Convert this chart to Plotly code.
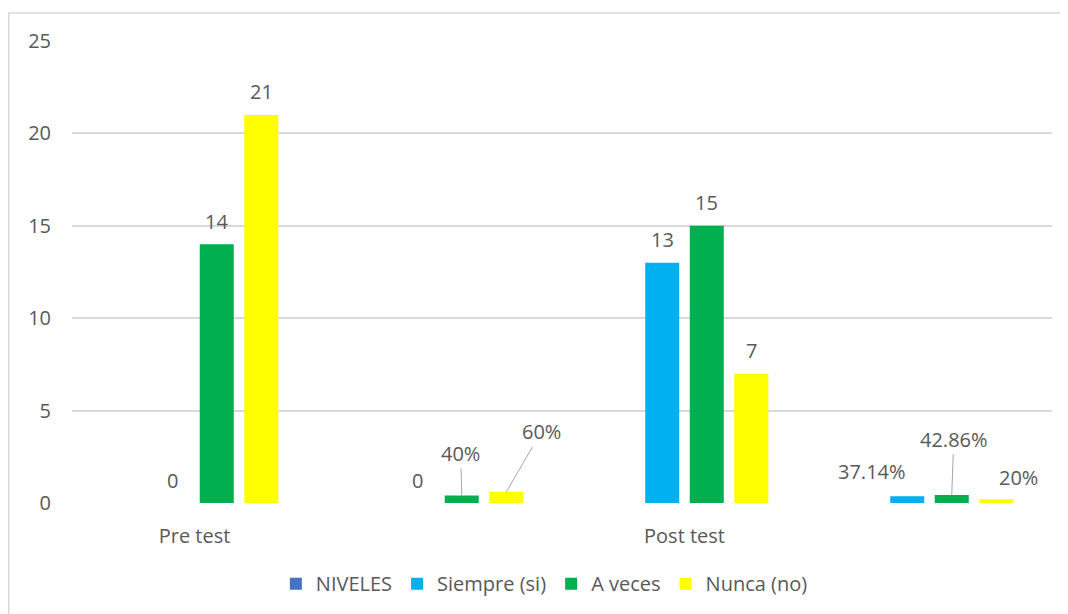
import plotly.graph_objects as go

# ---- data ----
categories = ["Pre test", "", "Post test", ""]
cat_pos = [0, 1, 2, 3]
series_names = ["NIVELES", "Siempre (si)", "A veces", "Nunca (no)"]
niveles = [None, None, None, None]
siempre = [0, 0, 13, 0.3714]
a_veces = [14, 0.40, 15, 0.4286]
nunca = [21, 0.60, 7, 0.20]
siempre_labels = ["0", "0", "13", "37.14%"]
a_veces_labels = ["14", "40%", "15", "42.86%"]
nunca_labels = ["21", "60%", "7", "20%"]
y_ticks = [0, 5, 10, 15, 20, 25]

# ---- style ----
colors = ["#4472C4", "#00B0F0", "#00B050", "#FFFF00"]
text_color = "#595959"
grid_color = "#D9D9D9"
FONT = "Open Sans"
FS = 20
BARGAP = 0.273
BARGROUPGAP = 0.236
# page body has an 8px margin, so the figure is 1060x606 placed at (8, 8)
W, H = 1060, 606
ML, MR, MT, MB = 64, 16, 33, 110

fig = go.Figure()
values = [niveles, siempre, a_veces, nunca]
for name, vals, col in zip(series_names, values, colors):
    fig.add_trace(go.Bar(x=cat_pos, y=vals, name=name, marker_color=col,
                         marker_line_width=0))

slot = (1 - BARGAP) / 4

label_sets = [(1, siempre, siempre_labels), (2, a_veces, a_veces_labels), (3, nunca, nunca_labels)]
leader = {(2, 1): (-1, -42), (3, 1): (35, -60), (2, 3): (2, -56)}
shifts = {(1, 3): (-35, 25), (3, 3): (22, 22)}

for si, vals, labs in label_sets:
    for ci, (v, lab) in enumerate(zip(vals, labs)):
        xx = cat_pos[ci] + (si - 1.5) * slot
        if (si, ci) in leader:
            ax, ay = leader[(si, ci)]
            fig.add_annotation(x=xx, y=v, text=lab, showarrow=True, arrowhead=0,
                               arrowwidth=1, arrowcolor="#A6A6A6", ax=ax, ay=ay,
                               standoff=0, font=dict(family=FONT, size=FS, color=text_color))
        else:
            xs, ys = shifts.get((si, ci), (0, 23))
            fig.add_annotation(x=xx, y=v, text=lab, showarrow=False, xanchor="center",
                               yanchor="middle", xshift=xs, yshift=ys,
                               font=dict(family=FONT, size=FS, color=text_color))

pw = W - ML - MR
ph = H - MT - MB
# outer chart border (left and top visible)
fig.add_shape(type="rect", xref="paper", yref="paper",
              x0=(0.75 - ML) / pw, x1=(W + 10 - ML) / pw,
              y0=(H - MB - (H + 10)) / ph, y1=(H - MB - 5) / ph,
              line=dict(color=grid_color, width=1.5), fillcolor="rgba(0,0,0,0)", layer="below")

fig.update_layout(
    width=W, height=H,
    margin=dict(l=ML, r=MR, t=MT, b=MB),
    paper_bgcolor="white", plot_bgcolor="white",
    barmode="group", bargap=BARGAP, bargroupgap=BARGROUPGAP,
    font=dict(family=FONT, size=FS, color=text_color),
    showlegend=True,
    legend=dict(orientation="h", x=0.482, xanchor="center", y=-0.172, yanchor="middle",
                font=dict(family=FONT, size=FS, color=text_color), traceorder="normal"),
    xaxis=dict(range=[-0.5, 3.5], tickvals=[0, 2], ticktext=[categories[0], categories[2]],
               showgrid=False, zeroline=False, showline=False, ticks="",
               ticklabelstandoff=19),
    yaxis=dict(range=[0, 25], tickvals=y_ticks, showgrid=True, gridcolor=grid_color,
               gridwidth=1.5, zeroline=False, showline=False, ticks="",
               ticklabelstandoff=20),
)

fig.write_html("out.html")
